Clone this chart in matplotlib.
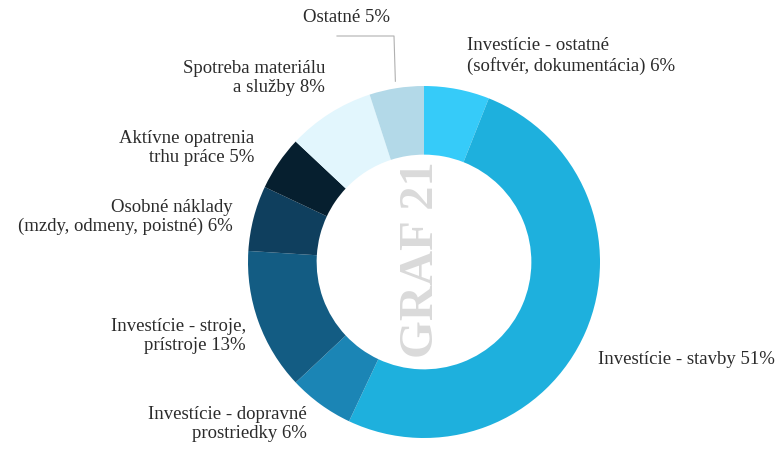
import matplotlib.pyplot as plt
import numpy as np

plt.rcParams['font.family'] = ['Liberation Serif', 'DejaVu Serif']

# data
labels = ['Investície - ostatné\n(softvér, dokumentácia) 6%',
          'Investície - stavby 51%',
          'Investície - dopravné\nprostriedky 6%',
          'Investície - stroje,\nprístroje 13%',
          'Osobné náklady\n(mzdy, odmeny, poistné) 6%',
          'Aktívne opatrenia\ntrhu práce 5%',
          'Spotreba materiálu\na služby 8%',
          'Ostatné 5%']
values = [6, 51, 6, 13, 6, 5, 8, 5]
colors = ['#36cbf9', '#1eb0dd', '#1b85b5', '#135c83',
          '#0f3f5e', '#061f2f', '#e2f6fd', '#b3d9e8']

W, H = 779, 450
fig = plt.figure(figsize=(W / 100, H / 100), dpi=100)
ax = fig.add_axes([0, 0, 1, 1])

cx, cy, R = 424, H - 262, 176
ax.pie(values, colors=colors, startangle=90, counterclock=False,
       center=(cx, cy), radius=R, frame=True,
       wedgeprops=dict(width=R * 0.39, linewidth=0))
ax.set_xlim(0, W)
ax.set_ylim(0, H)
ax.set_aspect('equal')
ax.axis('off')

# label placement (pixel coords from top-left, alignment)
label_pos = [(467, 56, 'left'),
             (598, 360, 'left'),
             (307, 424, 'right'),
             (246, 336, 'right'),
             (233, 217, 'right'),
             (254, 148, 'right'),
             (325, 78, 'right'),
             (347, 17, 'center')]
for lab, (x, y, ha) in zip(labels, label_pos):
    ax.text(x, H - y, lab, ha=ha, va='center', fontsize=13.5,
            color='#2b2b2b', linespacing=1.15)

# leader line for Ostatné
cum = np.cumsum(values)
mid = 90 - (cum[-1] - values[-1] / 2) / sum(values) * 360
ex = cx + (R + 7) * np.cos(np.radians(mid))
ey = cy + (R + 7) * np.sin(np.radians(mid))
ax.plot([337, 394, ex], [H - 36, H - 36, ey], color='#b0b0b0', lw=0.8)

ax.text(421, cy + 2, 'GRAF 21', rotation=90, ha='center', va='center',
        fontsize=35, fontweight='bold', color='#dadada')

fig.savefig('out.png', dpi=100)
